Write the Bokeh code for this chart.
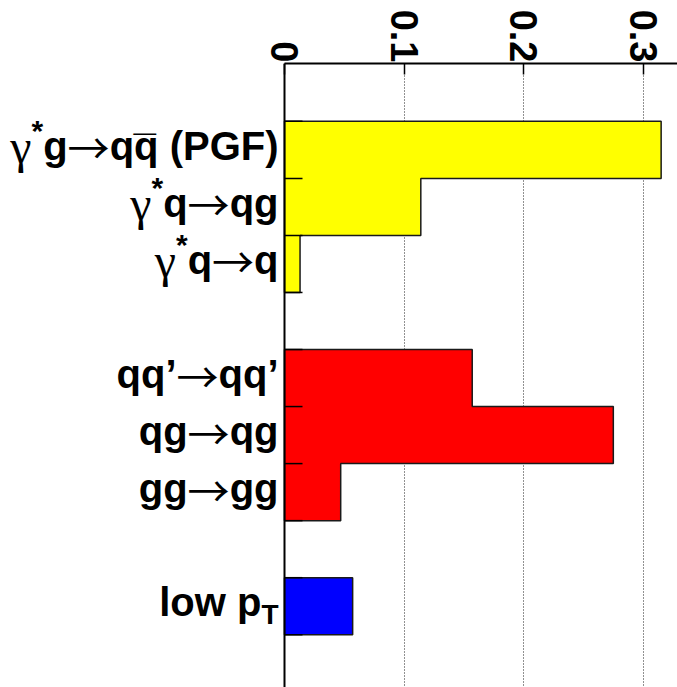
import math

from bokeh.core.properties import value
from bokeh.embed import file_html
from bokeh.models import ColumnDataSource, FixedTicker, Range1d, Span
from bokeh.plotting import figure
from bokeh.resources import INLINE

# Fraction of events per subprocess (ROOT-style markup: ^{} superscript, _{} subscript)
processes = ["γ^{*}g→qq\u0305 (PGF)", "γ^{*}q→qg", "γ^{*}q→q",
             "qq’→qq’", "qg→qg", "gg→gg", "low p_{T}"]
fractions = [0.315, 0.114, 0.013, 0.157, 0.275, 0.047, 0.057]
classes = ["direct", "direct", "direct", "resolved", "resolved", "resolved", "soft"]
x_ticks = [0.0, 0.1, 0.2, 0.3]
x_tick_labels = ["0", "0.1", "0.2", "0.3"]

class_colors = {"direct": "#ffff00", "resolved": "#ff0000", "soft": "#0000ff"}

# one histogram row per process, an empty row after each class
rows = []
r = 0
for i, c in enumerate(classes):
    if i > 0 and c != classes[i - 1]:
        r += 1
    rows.append(r)
    r += 1
n_rows = r + 1
edges = list(range(0, n_rows))

# the frame spans the full width; the value axis starts at x = 0
PX_PER_UNIT = 1195.7
X_MIN = -284 / PX_PER_UNIT
X_MAX = 393 / PX_PER_UNIT

p = figure(width=677, height=687,
           x_range=Range1d(X_MIN, X_MAX), y_range=Range1d(9.925, -1.014),
           output_backend="svg", toolbar_location=None,
           x_axis_location="above", y_axis_location=None,
           min_border_left=0, min_border_top=63,
           min_border_right=0, min_border_bottom=0)
p.outline_line_color = None
p.background_fill_color = "white"
p.border_fill_color = "white"

# grid: dotted verticals at the major ticks only
p.ygrid.grid_line_color = None
p.xgrid.ticker = FixedTicker(ticks=x_ticks[1:])
p.xgrid.grid_line_color = "#222222"
p.xgrid.grid_line_dash = "1 2"
p.xgrid.grid_line_width = 1

# each class drawn as one filled histogram with a step outline
for c, color in class_colors.items():
    idx = [i for i, k in enumerate(classes) if k == c]
    xs = [0.0]
    ys = [float(rows[idx[0]])]
    for i in idx:
        xs += [fractions[i], fractions[i]]
        ys += [float(rows[i]), float(rows[i] + 1)]
    xs.append(0.0)
    ys.append(float(rows[idx[-1]] + 1))
    p.patch(xs, ys, fill_color=color, line_color="#1a1a1a", line_width=1.5)

# bin-edge ticks pointing into the plot, and the vertical axis line
p.ray(x=[0.0] * len(edges), y=[float(e) for e in edges], length=18,
      length_units="screen", angle=0, line_color="black", line_width=1.5)
p.add_layout(Span(location=0, dimension="height", line_color="black", line_width=2))

# top axis
xa = p.xaxis[0]
xa.bounds = (0, X_MAX)
xa.ticker = FixedTicker(ticks=x_ticks)
xa.major_label_overrides = {t: s for t, s in zip(x_ticks, x_tick_labels)}
xa.major_label_orientation = -math.pi / 2
xa.major_label_text_font = "Liberation Sans"
xa.major_label_text_font_style = "bold"
xa.major_label_text_font_size = "38px"
xa.major_label_text_color = "black"
xa.major_label_standoff = 1
xa.major_tick_in = 11
xa.major_tick_out = 0
xa.major_tick_line_width = 1.5
xa.minor_tick_line_color = None
xa.axis_line_width = 2

# process labels, composed of pieces in different fonts
SANS_BOLD = {" ": .278, "(": .333, ")": .333, "*": .389, "F": .611, "G": .778,
             "P": .667, "T": .611, "g": .611, "l": .278, "o": .611, "p": .611,
             "q": .611, "w": .778, "’": .278, "\u0305": 0.0}
SERIF = {"γ": .41}
SYMBOL = {"→": 1.0}
STYLES = {
    "main": dict(font="Liberation Sans", style="bold", size=40, dy=0, metrics=SANS_BOLD),
    "sup": dict(font="Liberation Sans", style="bold", size=30, dy=-15, metrics=SANS_BOLD),
    "sub": dict(font="Liberation Sans", style="bold", size=28, dy=12, metrics=SANS_BOLD),
    "greek": dict(font="Liberation Serif", style="normal", size=48, dy=1, metrics=SERIF),
    "arrow": dict(font="Noto Sans CJK JP", style="normal", size=42, dy=0, metrics=SYMBOL),
}


def parse(label):
    pieces = []
    i = 0
    while i < len(label):
        ch = label[i]
        if ch in "^_" and i + 1 < len(label) and label[i + 1] == "{":
            j = label.index("}", i)
            pieces.append([label[i + 2:j], "sup" if ch == "^" else "sub"])
            i = j + 1
        elif ch == "γ":
            pieces.append([ch, "greek"])
            i += 1
        elif ch == "→":
            pieces.append([ch, "arrow"])
            i += 1
        else:
            if pieces and pieces[-1][1] == "main":
                pieces[-1][0] += ch
            else:
                pieces.append([ch, "main"])
            i += 1
    return pieces


def width(text, kind):
    st = STYLES[kind]
    return sum(st["metrics"].get(ch, 0.6) for ch in text) * st["size"]


BASELINE = -4  # vertical shift of the text baseline from the row centre, px
cols = {k: dict(x=[], y=[], text=[], xo=[], yo=[]) for k in STYLES}
for label, row in zip(processes, rows):
    end = -6.0
    for text, kind in reversed(parse(label)):
        col = cols[kind]
        col["x"].append(0.0)
        col["y"].append(row + 0.5)
        col["text"].append(text)
        col["xo"].append(end)
        col["yo"].append(BASELINE + STYLES[kind]["dy"])
        end -= width(text, kind)

for kind, col in cols.items():
    if not col["text"]:
        continue
    st = STYLES[kind]
    p.text(x="x", y="y", text="text", x_offset="xo", y_offset="yo",
           source=ColumnDataSource(col),
           text_font=value(st["font"]), text_font_style=st["style"],
           text_font_size=f"{st['size']}px", text_align="right",
           text_baseline="alphabetic", text_color="black")

open("out.html", "w").write(file_html(p, INLINE))
